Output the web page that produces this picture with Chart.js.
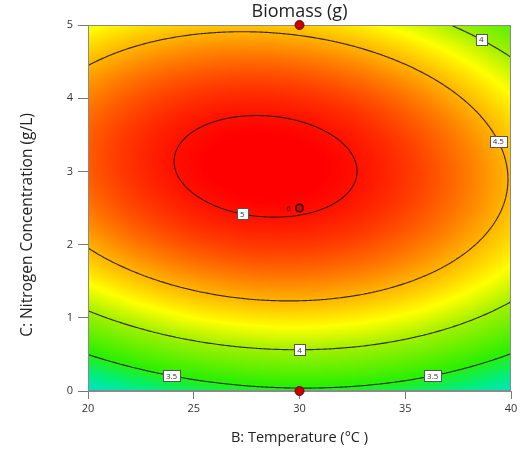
<!DOCTYPE html>
<html><head><meta charset="utf-8">
<script src="https://cdn.jsdelivr.net/npm/chart.js@4"></script>
<style>html,body{margin:0;padding:0;background:#fff}#wrap{width:525px;height:453px;position:relative}</style>
</head><body><div id="wrap"><canvas id="c" width="525" height="453" style="width:525px;height:453px"></canvas></div>
<script>
// ---- chart content ----
const titleText = 'Biomass (g)';
const xTitle = 'B: Temperature (°C )';
const yTitle = 'C: Nitrogen Concentration (g/L)';
const xTicks = [20, 25, 30, 35, 40];
const yTicks = [0, 1, 2, 3, 4, 5];
// fitted quadratic response model in coded units (X = (B-30)/10, Y = (C-2.5)/2.5)
const modelTerms = ['Intercept', 'B', 'C', 'B²', 'C²', 'BC'];
const modelCoefs = [5.020, -0.113, 0.474, -0.448, -1.088, -0.135];
const contourLevels = [3.5, 4, 4.5, 5];
// contour labels: level, temperature where label sits, which branch of the contour
const labelLevels = [4, 4.5, 5, 4, 3.5, 3.5];
const labelTemps = [38.6, 39.4, 27.3, 30.0, 23.95, 36.3];
const labelBranch = ['upper', 'upper', 'lower', 'lower', 'lower', 'lower'];
// design points
const designB = [30, 30];
const designC = [5, 0];
const centerB = [30];
const centerC = [2.5];
const centerReps = ['6'];
// colour ramp (response value -> colour)
const rampValues = [3.0, 3.25, 3.55, 4.0, 4.25, 4.55, 4.85, 5.05];
const rampColors = [[0,225,205],[0,238,125],[45,240,0],[160,240,0],[255,255,0],[255,165,0],[255,65,0],[255,0,0]];

function response(b, c) {
  const X = (b - 30) / 10, Y = (c - 2.5) / 2.5;
  const k = modelCoefs;
  return k[0] + k[1]*X + k[2]*Y + k[3]*X*X + k[4]*Y*Y + k[5]*X*Y;
}
function solveC(level, b, branch) {
  const X = (b - 30) / 10, k = modelCoefs;
  const qa = k[4], qb = k[2] + k[5]*X, qc = k[0] + k[1]*X + k[3]*X*X - level;
  const d = Math.sqrt(Math.max(0, qb*qb - 4*qa*qc));
  const y1 = (-qb + d) / (2*qa), y2 = (-qb - d) / (2*qa);
  const Y = branch === 'upper' ? Math.max(y1, y2) : Math.min(y1, y2);
  return 2.5 + 2.5*Y;
}
function colorFor(v) {
  if (v <= rampValues[0]) return rampColors[0];
  const n = rampValues.length;
  if (v >= rampValues[n-1]) return rampColors[n-1];
  for (let i = 0; i < n-1; i++) {
    if (v <= rampValues[i+1]) {
      const t = (v - rampValues[i]) / (rampValues[i+1] - rampValues[i]);
      const a = rampColors[i], b = rampColors[i+1];
      return [a[0]+(b[0]-a[0])*t, a[1]+(b[1]-a[1])*t, a[2]+(b[2]-a[2])*t];
    }
  }
}

const FONT = "'Open Sans', 'Noto Sans', sans-serif";

const surfacePlugin = {
  id: 'surface',
  beforeDatasetsDraw(chart) {
    const {ctx, chartArea: a, scales: {x, y}} = chart;
    const L = Math.round(a.left), T = Math.round(a.top);
    const w = Math.round(a.right) - L, h = Math.round(a.bottom) - T;
    const img = ctx.createImageData(w, h);
    for (let py = 0; py < h; py++) {
      const cv = y.getValueForPixel(T + py + 0.5);
      for (let px = 0; px < w; px++) {
        const bv = x.getValueForPixel(L + px + 0.5);
        const col = colorFor(response(bv, cv));
        const o = (py*w + px)*4;
        img.data[o] = col[0]; img.data[o+1] = col[1]; img.data[o+2] = col[2]; img.data[o+3] = 255;
      }
    }
    ctx.putImageData(img, L, T);

    // contours by marching squares in data space
    const nx = 260, ny = 200;
    const b0 = x.min, b1 = x.max, c0 = y.min, c1 = y.max;
    const grid = [];
    for (let j = 0; j <= ny; j++) {
      const row = [];
      for (let i = 0; i <= nx; i++) row.push(response(b0 + (b1-b0)*i/nx, c0 + (c1-c0)*j/ny));
      grid.push(row);
    }
    ctx.save();
    ctx.beginPath(); ctx.rect(a.left, a.top, a.right-a.left, a.bottom-a.top); ctx.clip();
    ctx.strokeStyle = 'rgba(40,25,10,0.9)';
    ctx.lineWidth = 1.15;
    ctx.beginPath();
    for (const lev of contourLevels) {
      for (let j = 0; j < ny; j++) {
        for (let i = 0; i < nx; i++) {
          const corners = [[i,j],[i+1,j],[i+1,j+1],[i,j+1]];
          const pts = [];
          for (let e = 0; e < 4; e++) {
            const p = corners[e], q = corners[(e+1)%4];
            const vp = grid[p[1]][p[0]], vq = grid[q[1]][q[0]];
            if ((vp - lev) * (vq - lev) < 0) {
              const t = (lev - vp) / (vq - vp);
              const gi = p[0] + (q[0]-p[0])*t, gj = p[1] + (q[1]-p[1])*t;
              pts.push([x.getPixelForValue(b0 + (b1-b0)*gi/nx), y.getPixelForValue(c0 + (c1-c0)*gj/ny)]);
            }
          }
          for (let k = 0; k + 1 < pts.length; k += 2) {
            ctx.moveTo(pts[k][0], pts[k][1]); ctx.lineTo(pts[k+1][0], pts[k+1][1]);
          }
        }
      }
    }
    ctx.stroke();
    ctx.restore();

    // contour labels
    ctx.save();
    ctx.font = "8px " + FONT;
    ctx.textAlign = 'center'; ctx.textBaseline = 'middle';
    for (let k = 0; k < labelLevels.length; k++) {
      const bv = labelTemps[k];
      const cv = solveC(labelLevels[k], bv, labelBranch[k]);
      const px = x.getPixelForValue(bv), py = y.getPixelForValue(cv);
      const txt = String(labelLevels[k]);
      const tw = ctx.measureText(txt).width + 6, th = 11;
      ctx.fillStyle = '#fff';
      ctx.fillRect(Math.round(px - tw/2) + 0.5, Math.round(py - th/2) + 0.5, Math.round(tw), th);
      ctx.strokeStyle = '#555'; ctx.lineWidth = 1;
      ctx.strokeRect(Math.round(px - tw/2) + 0.5, Math.round(py - th/2) + 0.5, Math.round(tw), th);
      ctx.fillStyle = '#333';
      ctx.fillText(txt, px, py + 0.5);
    }
    ctx.restore();

    // plot frame
    ctx.save();
    ctx.strokeStyle = '#8a8a8a'; ctx.lineWidth = 1;
    ctx.strokeRect(a.left + 0.5, a.top + 0.5, a.right - a.left - 1, a.bottom - a.top - 1);
    ctx.restore();
  },
  afterDraw(chart) {
    const {ctx, chartArea: a, scales: {x, y}} = chart;
    ctx.save();
    ctx.fillStyle = '#222';
    ctx.font = "18px " + FONT;
    ctx.textAlign = 'center'; ctx.textBaseline = 'middle';
    ctx.fillText(titleText, (a.left + a.right) / 2, 12);
    // y axis title
    ctx.save();
    ctx.font = "15.5px " + FONT;
    ctx.translate(28, 225);
    ctx.rotate(-Math.PI / 2);
    ctx.fillText(yTitle, 0, 0);
    ctx.restore();
    ctx.font = "8px " + FONT;
    ctx.fillStyle = '#5a1010';
    for (let k = 0; k < centerB.length; k++) {
      ctx.fillText(centerReps[k], x.getPixelForValue(centerB[k]) - 11, y.getPixelForValue(centerC[k]) + 0.5);
    }
    ctx.restore();
  }
};

new Chart(document.getElementById('c'), {
  type: 'scatter',
  data: {
    datasets: [
      {
        data: designB.map((b, i) => ({x: b, y: designC[i]})),
        pointRadius: 4.5, pointBackgroundColor: '#c40000', pointBorderColor: '#7a0000', pointBorderWidth: 1,
        clip: false
      },
      {
        data: centerB.map((b, i) => ({x: b, y: centerC[i]})),
        pointRadius: 3.8, pointBackgroundColor: '#e00000', pointBorderColor: '#2a0000', pointBorderWidth: 1.6,
        clip: false
      }
    ]
  },
  options: {
    responsive: false,
    animation: false,
    devicePixelRatio: 1,
    layout: {padding: {top: 25, right: 14, left: 0, bottom: 0}},
    plugins: {legend: {display: false}, tooltip: {enabled: false}, title: {display: false}},
    scales: {
      x: {
        type: 'linear', min: 20, max: 40,
        afterBuildTicks(s) { s.ticks = xTicks.map(v => ({value: v})); },
        afterFit(s) { s.height = 62; },
        grid: {display: true, drawOnChartArea: false, drawTicks: true, tickLength: 8, color: '#777'},
        border: {display: true, color: '#8a8a8a'},
        ticks: {font: {size: 11, family: FONT}, color: '#333', padding: 3, maxRotation: 0, autoSkip: false},
        title: {display: true, text: xTitle, font: {size: 14.5, family: FONT}, color: '#222', padding: {top: 0, bottom: 6}}
      },
      y: {
        type: 'linear', min: 0, max: 5,
        afterBuildTicks(s) { s.ticks = yTicks.map(v => ({value: v})); },
        afterFit(s) { s.width = 88; },
        grid: {display: true, drawOnChartArea: false, drawTicks: true, tickLength: 10, color: '#777'},
        border: {display: true, color: '#8a8a8a'},
        ticks: {font: {size: 11, family: FONT}, color: '#333', padding: 5, autoSkip: false},
        title: {display: false}
      }
    }
  },
  plugins: [surfacePlugin]
});
</script>
</body></html>
